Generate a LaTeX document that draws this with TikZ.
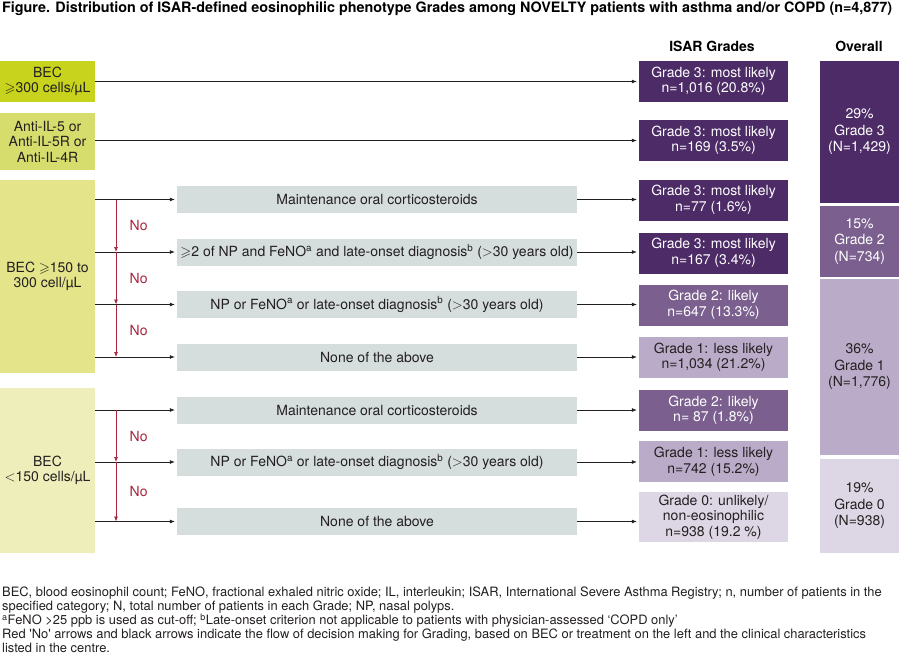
\documentclass[tikz,border=0pt]{standalone}
\usepackage{amssymb}
\usepackage{fontspec}
\setmainfont{TeX Gyre Heros}
\usetikzlibrary{positioning, arrows.meta}

\definecolor{yelA}{RGB}{199,211,28}
\definecolor{yelB}{RGB}{215,221,108}
\definecolor{yelC}{RGB}{228,228,138}
\definecolor{yelD}{RGB}{238,238,186}
\definecolor{greybox}{RGB}{213,221,221}
\definecolor{gthree}{RGB}{76,43,102}
\definecolor{gtwo}{RGB}{123,96,143}
\definecolor{gone}{RGB}{186,172,201}
\definecolor{gzero}{RGB}{221,215,229}
\definecolor{noRed}{RGB}{168,35,62}
\definecolor{inkdark}{RGB}{35,31,32}

\begin{document}
\begin{tikzpicture}[x=1pt, y=-1pt, >=Latex, font=\fontsize{14}{15.5}\selectfont,
	entry/.style={rectangle, minimum width=95pt, align=center, inner sep=0pt, text=inkdark},
	check/.style={rectangle, fill=greybox, minimum width=400pt, minimum height=27pt, inner sep=0pt, text=inkdark},
	grade/.style={rectangle, minimum width=149pt, minimum height=41pt, align=center, inner sep=0pt},
	overall/.style={rectangle, minimum width=79pt, align=center, inner sep=0pt, font=\fontsize{14}{16.5}\selectfont},
	flow/.style={inkdark, line width=0.7pt, shorten >=2pt, arrows={-Latex[length=5pt, width=4pt]}},
	nobranch/.style={noRed, line width=0.7pt, arrows={-Latex[length=5pt, width=4pt]}},
	nolabel/.style={text=noRed}]
	
	\useasboundingbox (0,0) rectangle (899,661);
	
	% Title and headers
	\node [anchor=west, inner sep=0pt, font=\bfseries\fontsize{14.35}{16}\selectfont] (title) at (2,9) {Figure. Distribution of ISAR-defined eosinophilic phenotype Grades among NOVELTY patients with asthma and/or COPD (n=4,877)};
	\node [font=\bfseries\fontsize{14}{16}\selectfont] (isarhead) at (712,46) {ISAR Grades};
	\node [font=\bfseries\fontsize{14}{16}\selectfont] (overallhead) at (859,46) {Overall};
	
	% Define nodes: BEC / treatment on the left
	\node [entry, fill=yelA, minimum height=41pt] (bec300) at (47.5,81.5) {BEC\\$\geqslant$300 cells/µL};
	\node [entry, fill=yelB, minimum height=57pt] (antiil) at (47.5,141.5) {Anti-IL-5 or\\Anti-IL-5R or\\Anti-IL-4R};
	\node [entry, fill=yelC, minimum height=193pt] (bec150) at (47.5,276.5) {BEC $\geqslant$150 to\\300 cell/µL};
	\node [entry, fill=yelD, minimum height=165pt] (bec0) at (47.5,470.5) {BEC\\$<$150 cells/µL};
	
	% Clinical characteristics in the centre
	\node [check] (mocs1) at (377,199.5) {Maintenance oral corticosteroids};
	\node [check] (twoof) at (377,252) {$\geqslant$2 of NP and FeNO\textsuperscript{a} and late-onset diagnosis\textsuperscript{b} ($>$30 years old)};
	\node [check] (npor1) at (377,304.5) {NP or FeNO\textsuperscript{a} or late-onset diagnosis\textsuperscript{b} ($>$30 years old)};
	\node [check] (none1) at (377,357) {None of the above};
	\node [check] (mocs2) at (377,410) {Maintenance oral corticosteroids};
	\node [check] (npor2) at (377,462) {NP or FeNO\textsuperscript{a} or late-onset diagnosis\textsuperscript{b} ($>$30 years old)};
	\node [check] (none2) at (377,521.5) {None of the above};
	
	% ISAR Grades
	\node [grade, fill=gthree, text=white] (gra) at (713.5,81.5) {Grade 3: most likely\\n=1,016 (20.8\%)};
	\node [grade, fill=gthree, text=white] (grb) at (713.5,140.5) {Grade 3: most likely\\n=169 (3.5\%)};
	\node [grade, fill=gthree, text=white] (grc) at (713.5,200) {Grade 3: most likely\\n=77 (1.6\%)};
	\node [grade, fill=gthree, text=white] (grd) at (713.5,253) {Grade 3: most likely\\n=167 (3.4\%)};
	\node [grade, fill=gtwo, text=white] (gre) at (713.5,305) {Grade 2: likely\\n=647 (13.3\%)};
	\node [grade, fill=gone, text=inkdark] (grf) at (713.5,357.5) {Grade 1: less likely\\n=1,034 (21.2\%)};
	\node [grade, fill=gtwo, text=white] (grg) at (713.5,410) {Grade 2: likely\\n= 87 (1.8\%)};
	\node [grade, fill=gone, text=inkdark] (grh) at (713.5,461.5) {Grade 1: less likely\\n=742 (15.2\%)};
	\node [grade, fill=gzero, text=inkdark, minimum height=50pt] (gri) at (713.5,517) {Grade 0: unlikely/\\non-eosinophilic\\n=938 (19.2 \%)};
	
	% Overall
	\node [overall, fill=gthree, text=white, minimum height=142pt] (ovthree) at (859.5,132) {29\%\\Grade 3\\(N=1,429)};
	\node [overall, fill=gtwo, text=white, minimum height=71pt] (ovtwo) at (859.5,241.5) {15\%\\Grade 2\\(N=734)};
	\node [overall, fill=gone, text=inkdark, minimum height=176pt] (ovone) at (859.5,367) {36\%\\Grade 1\\(N=1,776)};
	\node [overall, fill=gzero, text=inkdark, minimum height=94pt] (ovzero) at (859.5,506) {19\%\\Grade 0\\(N=938)};
	
	% Footnotes
	\node [anchor=north west, inner sep=0pt, align=left, text=inkdark, font=\fontsize{12.9}{14}\selectfont] (notes) at (2,587) {BEC, blood eosinophil count; FeNO, fractional exhaled nitric oxide; IL, interleukin; ISAR, International Severe Asthma Registry; n, number of patients in the\\
	specified category; N, total number of patients in each Grade; NP, nasal polyps.\\
	\textsuperscript{a}FeNO >25 ppb is used as cut-off; \textsuperscript{b}Late-onset criterion not applicable to patients with physician-assessed ‘COPD only’\\
	Red \textquotesingle No\textquotesingle{} arrows and black arrows indicate the flow of decision making for Grading, based on BEC or treatment on the left and the clinical characteristics\\
	listed in the centre.};
	
	% Red branch points
	\coordinate (split) at (116,0);
	
	% Arrows straight to the grades
	\draw[flow] (bec300.east) -- (gra.west);
	\draw[flow] (antiil.east |- grb) -- (grb.west);
	
	% Arrows into the clinical characteristics
	\foreach \chk/\src in {mocs1/bec150, twoof/bec150, npor1/bec150, none1/bec150, mocs2/bec0, npor2/bec0, none2/bec0}
		\draw[flow] (\src.east |- \chk) -- (\chk.west);
	
	% Arrows out to the grades
	\draw[flow] (mocs1.east) -- (mocs1.east -| grc.west);
	\draw[flow] (twoof.east) -- (twoof.east -| grd.west);
	\draw[flow] (npor1.east) -- (npor1.east -| gre.west);
	\draw[flow] (none1.east) -- (none1.east -| grf.west);
	\draw[flow] (mocs2.east) -- (mocs2.east -| grg.west);
	\draw[flow] (npor2.east) -- (npor2.east -| grh.west);
	\draw[flow] (none2.east) -- (none2.east -| gri.west);
	
	% Red 'No' arrows
	\draw[nobranch] (split |- mocs1) -- (split |- twoof) node[midway, right=10pt, nolabel] {No};
	\draw[nobranch] (split |- twoof) -- (split |- npor1) node[midway, right=10pt, nolabel] {No};
	\draw[nobranch] (split |- npor1) -- (split |- none1) node[midway, right=10pt, nolabel] {No};
	\draw[nobranch] (split |- mocs2) -- (split |- npor2) node[midway, right=10pt, nolabel] {No};
	\draw[nobranch] (split |- npor2) -- (split |- none2) node[midway, right=10pt, nolabel] {No};
\end{tikzpicture}
\end{document}
